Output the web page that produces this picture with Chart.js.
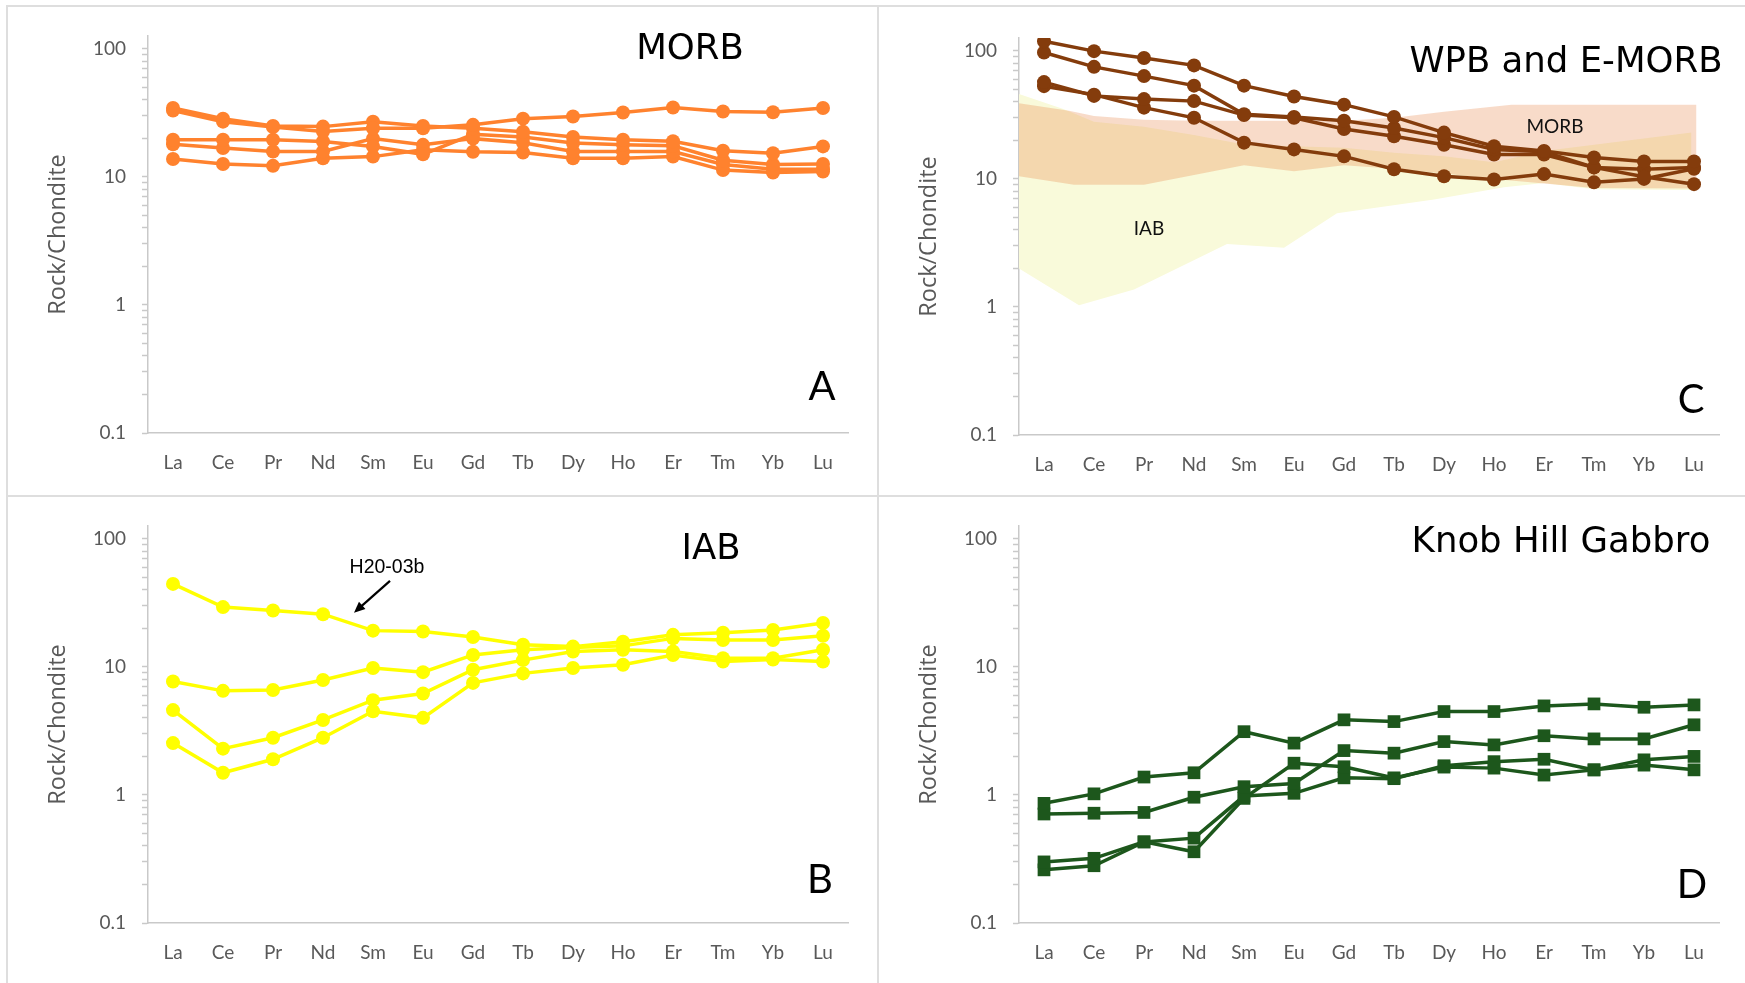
<!DOCTYPE html>
<html>
<head>
<meta charset="utf-8">
<script src="https://cdn.jsdelivr.net/npm/chart.js@4.4.1/dist/chart.umd.min.js"></script>
<style>
  html, body { margin: 0; padding: 0; background: #fff; }
  body { width: 1745px; height: 983px; position: relative; overflow: hidden; }
  .rule { position: absolute; background: #dedede; }
  canvas { position: absolute; }
  .t { position: absolute; transform: translate(-50%, -50%); white-space: nowrap; line-height: 1; }
  .title { font-family: 'DejaVu Sans', sans-serif; font-size: 35.5px; color: #000; }
  .letter { font-family: Lato, sans-serif; font-size: 40px; color: #000; }
  .field { font-family: Lato, sans-serif; font-size: 19px; color: #111; }
  .note { font-family: 'Liberation Sans', Arial, sans-serif; font-size: 19.5px; color: #000; }
</style>
</head>
<body>
<!-- panel frames -->
<div class="rule" style="left:6px;top:5px;width:1739px;height:2px"></div>
<div class="rule" style="left:6px;top:5px;width:2px;height:978px"></div>
<div class="rule" style="left:877px;top:5px;width:2px;height:978px"></div>
<div class="rule" style="left:6px;top:495px;width:1739px;height:2px"></div>

<canvas id="cA" width="868" height="487" style="left:9px;top:8px"></canvas>
<canvas id="cC" width="865" height="487" style="left:880px;top:10px"></canvas>
<canvas id="cB" width="868" height="485" style="left:9px;top:498px"></canvas>
<canvas id="cD" width="865" height="485" style="left:880px;top:498px"></canvas>

<div class="t title" style="left:690px;top:47px">MORB</div>
<div class="t title" style="left:1566px;top:60px">WPB and E-MORB</div>
<div class="t title" style="left:711px;top:547px">IAB</div>
<div class="t title" style="left:1561px;top:540px">Knob Hill Gabbro</div>

<div class="t letter" style="left:822px;top:385px">A</div>
<div class="t letter" style="left:1691px;top:398px">C</div>
<div class="t letter" style="left:820px;top:878px">B</div>
<div class="t letter" style="left:1692px;top:883px">D</div>

<div class="t field" style="left:1555px;top:125px">MORB</div>
<div class="t field" style="left:1149px;top:227px">IAB</div>
<div class="t note" style="left:387px;top:567px">H20-03b</div>

<script>
// Rare earth elements, chondrite-normalised
const REE = ['La', 'Ce', 'Pr', 'Nd', 'Sm', 'Eu', 'Gd', 'Tb', 'Dy', 'Ho', 'Er', 'Tm', 'Yb', 'Lu'];
const MAJOR_TICKS = [0.1, 1, 10, 100];
const MINOR_STEPS = [2, 3, 4, 5, 6, 7, 8, 9];

// A: MORB samples
const morb1 = [33, 27, 24.5, 22.6, 24, 24, 25.5, 28.5, 29.6, 31.8, 34.8, 32.4, 32, 34.5];
const morb2 = [34.5, 28.5, 25, 24.7, 27, 25, 24, 22.5, 20.5, 19.5, 19, 16, 15.3, 17.3];
const morb3 = [19.5, 19.5, 19.5, 18.9, 17.3, 15, 21.5, 20.5, 18.4, 17.8, 17.5, 13.5, 12.5, 12.6];
const morb4 = [18, 16.8, 15.8, 15.8, 19.9, 17.8, 19.9, 18.5, 15.8, 15.8, 15.8, 12.5, 11.5, 11.5];
const morb5 = [13.8, 12.6, 12.2, 14, 14.4, 16.3, 15.7, 15.5, 14, 14, 14.4, 11.3, 10.8, 11];

// C: WPB and E-MORB samples
const wpb1 = [119, 99.5, 88, 77, 53.5, 44, 38, 30.5, 23, 18, 16.5, 14.7, 13.7, 13.7];
const wpb2 = [97, 75, 63.5, 53.5, 32, 30.5, 28.5, 25, 21, 17, 16.3, 12.3, 10.4, 9.1];
const wpb3 = [57, 44.5, 42, 40.5, 31.5, 30, 24.5, 21.5, 18.5, 15.5, 15.5, 12.3, 11.9, 12.3];
const wpb4 = [53, 45.5, 36, 30, 19.2, 17, 15, 11.9, 10.5, 9.9, 10.9, 9.4, 10, 12];

// C: reference fields, [REE position, value] (-0.5 = left edge of the axis)
const morbFieldTop = [[-0.5, 39], [0.5, 34], [1, 31], [2, 29], [3, 28.5], [4, 28.5], [5, 28.5], [6, 28.5], [7, 30], [8, 33.5], [9.35, 38], [13.05, 38]];
const morbFieldBase = [[-0.5, 10.5], [0.6, 9], [2, 9], [4, 12.8], [5, 11.5], [6, 12.8], [7, 12], [8, 11], [9, 10], [10, 9.2], [11, 8.5], [13.05, 8.4]];
const iabFieldTop = [[-0.5, 46], [0.4, 35], [1, 28], [2, 25.5], [3, 22], [4, 18.6], [5, 18], [6, 17.5], [7, 16], [8, 15], [9, 13.5], [10, 16.5], [11, 18.5], [12.95, 23]];
const iabFieldBase = [[-0.5, 2.0], [0.7, 1.03], [1.8, 1.37], [3.66, 3.1], [4.8, 2.9], [5.86, 5.4], [7.8, 6.9], [9.2, 8.6], [10, 9.3], [11, 8.3], [12.95, 8.2]];

// B: IAB samples (iab1 = H20-03b)
const iab1 = [44.5, 29.3, 27.6, 25.8, 19.2, 18.9, 17.1, 14.9, 14.4, 15.7, 17.8, 18.5, 19.4, 22];
const iab2 = [7.7, 6.5, 6.6, 7.9, 9.8, 9.1, 12.4, 13.6, 14.2, 14.6, 16.7, 16.2, 16.2, 17.5];
const iab3 = [4.6, 2.3, 2.8, 3.85, 5.5, 6.2, 9.5, 11.3, 13.2, 13.6, 13.2, 11.7, 11.7, 13.6];
const iab4 = [2.54, 1.49, 1.9, 2.8, 4.5, 4.0, 7.5, 8.9, 9.8, 10.4, 12.4, 11.0, 11.4, 11.0];

// B: arrow pointing at H20-03b, [REE position, value]
const noteArrowFrom = [4.34, 47];
const noteArrowTo = [3.62, 26.5];

// D: Knob Hill Gabbro samples
const gabbro1 = [0.86, 1.02, 1.38, 1.49, 3.12, 2.54, 3.86, 3.74, 4.48, 4.48, 4.96, 5.14, 4.84, 5.05];
const gabbro2 = [0.71, 0.72, 0.73, 0.96, 1.16, 1.23, 2.22, 2.12, 2.61, 2.46, 2.9, 2.74, 2.74, 3.53];
const gabbro3 = [0.30, 0.32, 0.43, 0.36, 0.94, 1.77, 1.66, 1.36, 1.65, 1.62, 1.43, 1.57, 1.71, 1.57];
const gabbro4 = [0.26, 0.28, 0.43, 0.46, 0.98, 1.03, 1.36, 1.34, 1.69, 1.82, 1.90, 1.57, 1.88, 2.0];

const AXIS_GREY = '#c9c9c9';
const LABEL_GREY = '#595959';

function yAxis() {
  return {
    type: 'logarithmic',
    min: 0.1,
    max: 126,
    bounds: 'data',
    afterBuildTicks(scale) {
      const ticks = [];
      for (const d of [0.1, 1, 10]) {
        ticks.push({ value: d, major: true });
        for (const k of MINOR_STEPS) ticks.push({ value: +(d * k).toPrecision(3) });
      }
      ticks.push({ value: 100, major: true });
      scale.ticks = ticks;
    },
    afterFit(scale) { scale.width = 139; },
    ticks: {
      autoSkip: false,
      padding: 16,
      color: LABEL_GREY,
      font: { family: 'Lato', size: 19 },
      callback: (v) => (MAJOR_TICKS.includes(v) ? String(v) : '')
    },
    grid: { drawOnChartArea: false, drawTicks: true, tickLength: 6, tickColor: AXIS_GREY, tickWidth: 1.5 },
    border: { color: AXIS_GREY, width: 1.5 },
    title: {
      display: true,
      text: 'Rock/Chondite',
      color: LABEL_GREY,
      font: { family: 'Open Sans', size: 23.5 },
      padding: { top: 35, bottom: 0 }
    }
  };
}

function xAxis(height) {
  return {
    type: 'category',
    labels: REE,
    offset: true,
    afterFit(scale) { scale.height = height; },
    ticks: { autoSkip: false, maxRotation: 0, padding: 18, color: LABEL_GREY, font: { family: 'Lato', size: 19 } },
    grid: { drawOnChartArea: false, drawTicks: false },
    border: { color: AXIS_GREY, width: 1.5 }
  };
}

function sampleLine(data, color, style) {
  const square = style === 'rect';
  return {
    data,
    borderColor: color,
    backgroundColor: color,
    borderWidth: 3.5,
    pointStyle: square ? 'rect' : 'circle',
    pointRadius: square ? 9 : 7,
    pointBorderWidth: 0,
    pointBackgroundColor: color,
    tension: 0,
    fill: false,
    order: 0
  };
}

function fieldEdge(points, fillColor, target, order) {
  return {
    xAxisID: 'xf',
    data: points.map(([x, y]) => ({ x, y })),
    borderWidth: 0,
    borderColor: 'rgba(0,0,0,0)',
    pointRadius: 0,
    tension: 0,
    backgroundColor: fillColor || 'rgba(0,0,0,0)',
    fill: target === undefined ? false : { target },
    order
  };
}

function baseOptions(rightPad, xHeight, extraScales) {
  return {
    responsive: false,
    animation: false,
    events: [],
    layout: { padding: { left: 0, top: 28, right: rightPad, bottom: 0 } },
    plugins: { legend: { display: false }, tooltip: { enabled: false } },
    scales: Object.assign({ x: xAxis(xHeight), y: yAxis() }, extraScales || {})
  };
}

const ORANGE = '#ff822e';
const BROWN = '#843c0c';
const YELLOW = '#ffff00';
const GREEN = '#1d571c';

// A: MORB
new Chart(document.getElementById('cA'), {
  type: 'line',
  data: { labels: REE, datasets: [morb1, morb2, morb3, morb4, morb5].map((d) => sampleLine(d, ORANGE)) },
  options: baseOptions(29, 62)
});

// C: WPB and E-MORB with MORB and IAB fields behind
new Chart(document.getElementById('cC'), {
  type: 'line',
  data: {
    labels: REE,
    datasets: [
      ...[wpb1, wpb2, wpb3, wpb4].map((d) => sampleLine(d, BROWN)),
      fieldEdge(morbFieldTop, 'rgba(232,130,70,0.29)', 5, 1),
      fieldEdge(morbFieldBase, null, undefined, 1),
      fieldEdge(iabFieldTop, 'rgb(249,250,218)', 7, 2),
      fieldEdge(iabFieldBase, null, undefined, 2)
    ]
  },
  options: baseOptions(26, 62, { xf: { type: 'linear', min: -0.5, max: 13.5, display: false } })
});

// B: IAB, with the H20-03b pointer
const notePointer = {
  id: 'notePointer',
  afterDatasetsDraw(chart) {
    const { ctx, scales: { x, y } } = chart;
    const x0 = x.getPixelForValue(noteArrowFrom[0]);
    const y0 = y.getPixelForValue(noteArrowFrom[1]);
    const x1 = x.getPixelForValue(noteArrowTo[0]);
    const y1 = y.getPixelForValue(noteArrowTo[1]);
    const ang = Math.atan2(y1 - y0, x1 - x0);
    const head = 12;
    ctx.save();
    ctx.strokeStyle = '#000';
    ctx.fillStyle = '#000';
    ctx.lineWidth = 2.2;
    ctx.beginPath();
    ctx.moveTo(x0, y0);
    ctx.lineTo(x1 - Math.cos(ang) * head * 0.8, y1 - Math.sin(ang) * head * 0.8);
    ctx.stroke();
    ctx.beginPath();
    ctx.moveTo(x1, y1);
    ctx.lineTo(x1 - head * Math.cos(ang - 0.42), y1 - head * Math.sin(ang - 0.42));
    ctx.lineTo(x1 - head * Math.cos(ang + 0.42), y1 - head * Math.sin(ang + 0.42));
    ctx.closePath();
    ctx.fill();
    ctx.restore();
  }
};

new Chart(document.getElementById('cB'), {
  type: 'line',
  data: { labels: REE, datasets: [iab1, iab2, iab3, iab4].map((d) => sampleLine(d, YELLOW)) },
  options: baseOptions(29, 60),
  plugins: [notePointer]
});

// D: Knob Hill Gabbro
new Chart(document.getElementById('cD'), {
  type: 'line',
  data: { labels: REE, datasets: [gabbro1, gabbro2, gabbro3, gabbro4].map((d) => sampleLine(d, GREEN, 'rect')) },
  options: baseOptions(26, 60)
});
</script>
</body>
</html>
